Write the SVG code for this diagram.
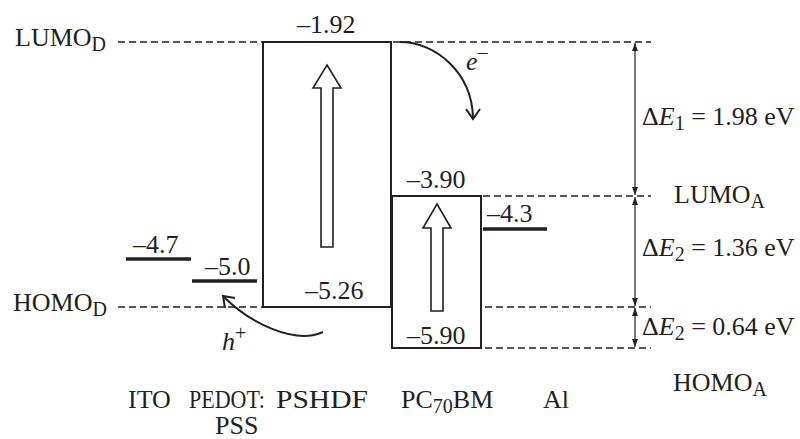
<svg xmlns="http://www.w3.org/2000/svg" width="800" height="439" viewBox="0 0 800 439">
  <style>
    text { font-family: "Liberation Serif", "Times New Roman", serif; font-size: 26px; fill: #231f20; }
    .sub { font-size: 20px; }
    .it { font-style: italic; }
    .dash { stroke: #231f20; stroke-width: 1.3; stroke-dasharray: 7 4; fill: none; }
    .box { stroke: #231f20; stroke-width: 2; fill: none; }
    .lvl { stroke: #231f20; stroke-width: 3.5; fill: none; }
    .hollow { stroke: #231f20; stroke-width: 1.6; fill: #ffffff; stroke-linejoin: miter; }
    .dim { stroke: #231f20; stroke-width: 1.2; fill: none; }
    .curve { stroke: #231f20; stroke-width: 2; fill: none; }
  </style>
  <defs>
    <marker id="tri" viewBox="0 0 8 6" refX="8" refY="3" markerWidth="8" markerHeight="6" markerUnits="userSpaceOnUse" orient="auto-start-reverse">
      <path d="M0,0 L8,3 L0,6 z" fill="#231f20"/>
    </marker>
  </defs>
  <rect width="800" height="439" fill="#ffffff"/>

  <g id="connectors">
    <!-- dashed reference lines -->
    <line class="dash" x1="118" y1="42" x2="262" y2="42"/>
    <line class="dash" x1="393" y1="42" x2="651" y2="42"/>
    <line class="dash" x1="483" y1="196" x2="651" y2="196"/>
    <line class="dash" x1="118" y1="307" x2="262" y2="307"/>
    <line class="dash" x1="485" y1="307" x2="651" y2="307"/>
    <line class="dash" x1="485" y1="348" x2="651" y2="348"/>
    <!-- dimension arrows -->
    <line class="dim" x1="635" y1="43" x2="635" y2="195" marker-start="url(#tri)" marker-end="url(#tri)"/>
    <line class="dim" x1="635" y1="197" x2="635" y2="306" marker-start="url(#tri)" marker-end="url(#tri)"/>
    <line class="dim" x1="635" y1="308" x2="635" y2="347" marker-start="url(#tri)" marker-end="url(#tri)"/>
    <!-- electron transfer -->
    <path class="curve" d="M400,42 C435,42 472,72 473,118"/>
    <path class="curve" d="M466,109 L473,119 L480,109"/>
    <!-- hole transfer -->
    <path class="curve" d="M323,332 C295,345 250,323 224,297"/>
    <path class="curve" d="M235,298 L223,296 L225,308"/>
  </g>

  <g id="LUMO_D">
    <text x="15" y="46">LUMO<tspan class="sub" dy="5">D</tspan></text>
  </g>
  <g id="HOMO_D">
    <text x="13" y="311">HOMO<tspan class="sub" dy="5">D</tspan></text>
  </g>

  <g id="ITO">
    <line class="lvl" x1="126" y1="259" x2="191" y2="259"/>
    <text x="133" y="253">–4.7</text>
    <text x="128" y="408">ITO</text>
  </g>

  <g id="PEDOT">
    <line class="lvl" x1="192" y1="281" x2="257" y2="281"/>
    <text x="205" y="275">–5.0</text>
    <text x="189" y="408" textLength="76" lengthAdjust="spacingAndGlyphs">PEDOT:</text>
    <text x="215" y="434">PSS</text>
  </g>

  <g id="PSHDF">
    <rect class="box" x="263" y="42" width="128" height="265"/>
    <text x="297" y="33">–1.92</text>
    <text x="305" y="299">–5.26</text>
    <path class="hollow" d="M327,65 L341,88 L333,88 L333,247 L321,247 L321,88 L313,88 Z"/>
    <text x="276" y="408" textLength="92" lengthAdjust="spacingAndGlyphs">PSHDF</text>
  </g>

  <g id="PC70BM">
    <rect class="box" x="392" y="196" width="89" height="152"/>
    <text x="407" y="188">–3.90</text>
    <text x="407" y="344">–5.90</text>
    <path class="hollow" d="M437,204 L451,228 L443,228 L443,311 L431,311 L431,228 L423,228 Z"/>
    <text x="401" y="408">PC<tspan class="sub" dy="5">70</tspan><tspan dy="-5">BM</tspan></text>
  </g>

  <g id="Al">
    <line class="lvl" x1="483" y1="229" x2="547" y2="229"/>
    <text x="487" y="222">–4.3</text>
    <text x="543" y="408">Al</text>
  </g>

  <g id="labels">
    <text class="it" x="466" y="70">e<tspan class="sub" dy="-11">–</tspan></text>
    <text class="it" x="222" y="350">h<tspan class="sub" style="font-style:normal" dy="-10">+</tspan></text>
    <text x="642" y="125">Δ<tspan class="it">E</tspan><tspan class="sub" dy="5">1</tspan><tspan dy="-5"> = 1.98 eV</tspan></text>
    <text x="674" y="203">LUMO<tspan class="sub" dy="5">A</tspan></text>
    <text x="642" y="256">Δ<tspan class="it">E</tspan><tspan class="sub" dy="5">2</tspan><tspan dy="-5"> = 1.36 eV</tspan></text>
    <text x="642" y="335">Δ<tspan class="it">E</tspan><tspan class="sub" dy="5">2</tspan><tspan dy="-5"> = 0.64 eV</tspan></text>
    <text x="673" y="391">HOMO<tspan class="sub" dy="5">A</tspan></text>
  </g>
</svg>
